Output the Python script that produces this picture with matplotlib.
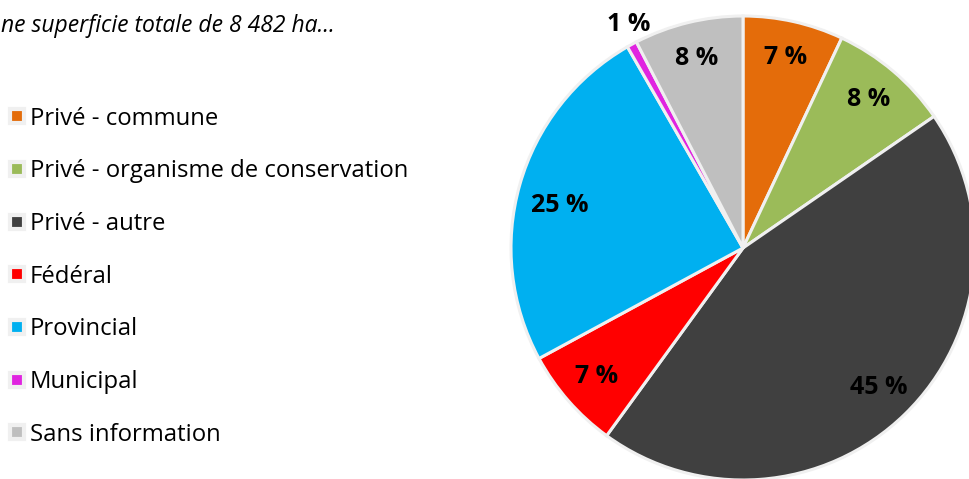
import matplotlib.pyplot as plt
from matplotlib.lines import Line2D

# Répartition de la superficie par tenure (%)
categories = ['Privé - commune', 'Privé - organisme de conservation', 'Privé - autre',
              'Fédéral', 'Provincial', 'Municipal', 'Sans information']
values = [7.0, 8.4, 44.6, 7.1, 24.6, 0.7, 7.6]
colors = ['#E46C0A', '#9BBB59', '#404040', '#FF0000', '#00B0F0', '#E024E0', '#BFBFBF']
title = 'ne superficie totale de 8 482 ha...'

plt.rcParams['font.family'] = ['Open Sans', 'DejaVu Sans']

fig = plt.figure(figsize=(9.7, 4.79), dpi=100)
ax = fig.add_axes([0, 0, 1, 1])

wedges, texts, autotexts = ax.pie(
    values, colors=colors, startangle=90, counterclock=False,
    center=(743, 231), radius=232,
    autopct=lambda p: '{:.0f} %'.format(p), pctdistance=0.84,
    wedgeprops=dict(edgecolor='#F0F0F0', linewidth=2.2),
    textprops=dict(fontsize=18, fontweight='bold', color='black'))

# petite tranche : étiquette à l'extérieur
autotexts[5].set_position((629, 455))
autotexts[4].set_position((560, 274))

ax.set_xlim(0, 970)
ax.set_ylim(0, 479)
ax.set_aspect('equal')
ax.axis('off')

ax.text(1, 453, title, ha='left', va='center', fontsize=16.5, style='italic')

handles = [Line2D([], [], linestyle='none', marker='s', markersize=9.5,
                  markerfacecolor=c, markeredgecolor='#F0F0F0', markeredgewidth=3)
           for c in colors]
ax.legend(handles, categories, loc='upper left', bbox_to_anchor=(0.0, 0.797),
          frameon=False, fontsize=17.2, labelspacing=1.2, handlelength=0.6,
          handletextpad=0.25, borderaxespad=0, borderpad=0.4)

fig.savefig('out.png', dpi=100)
